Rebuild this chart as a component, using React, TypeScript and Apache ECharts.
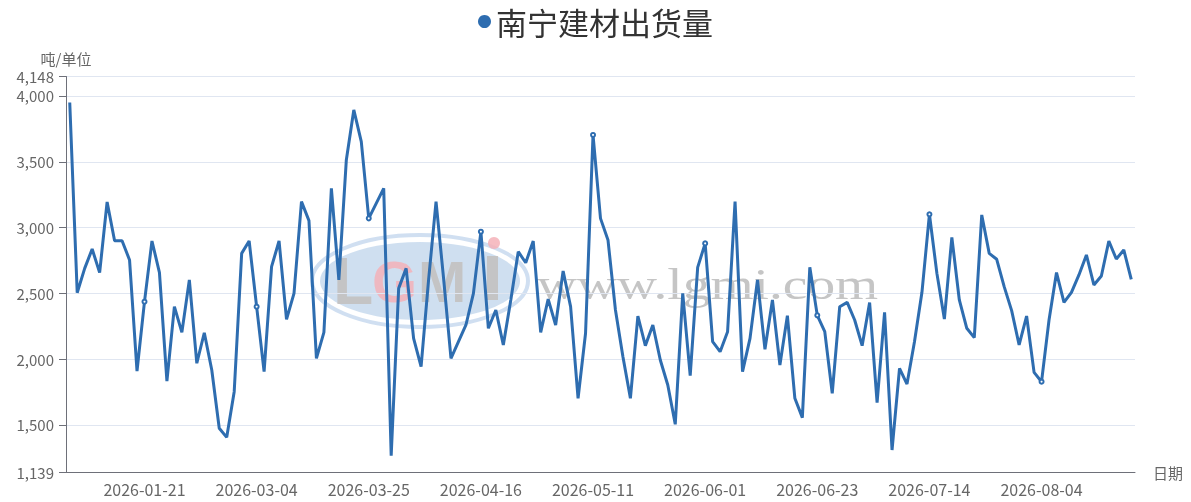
import React, { useEffect, useRef } from 'react';
import * as echarts from 'echarts';

const seriesName = '南宁建材出货量';
const yAxisName = '吨/单位';
const xAxisName = '日期';
const yMin = 1139;
const yMax = 4148;

const categories = [
  '2026-01-07', '2026-01-08', '2026-01-09', '2026-01-12', '2026-01-13', '2026-01-14', '2026-01-15', '2026-01-16', '2026-01-19', '2026-01-20',
  '2026-01-21', '2026-01-22', '2026-01-23', '2026-01-26', '2026-01-27', '2026-01-28', '2026-01-29', '2026-01-30', '2026-02-02', '2026-02-03',
  '2026-02-04', '2026-02-05', '2026-02-27', '2026-03-02', '2026-03-03',
  '2026-03-04', '2026-03-05', '2026-03-06', '2026-03-09', '2026-03-10', '2026-03-11', '2026-03-12', '2026-03-13', '2026-03-16', '2026-03-17',
  '2026-03-18', '2026-03-19', '2026-03-20', '2026-03-23', '2026-03-24',
  '2026-03-25', '2026-03-26', '2026-03-27', '2026-03-30', '2026-03-31', '2026-04-01', '2026-04-02', '2026-04-03', '2026-04-07', '2026-04-08',
  '2026-04-09', '2026-04-10', '2026-04-13', '2026-04-14', '2026-04-15',
  '2026-04-16', '2026-04-17', '2026-04-20', '2026-04-21', '2026-04-22', '2026-04-23', '2026-04-24', '2026-04-27', '2026-04-28', '2026-04-29',
  '2026-04-30', '2026-05-06', '2026-05-07', '2026-05-08', '2026-05-09',
  '2026-05-11', '2026-05-12', '2026-05-13', '2026-05-14', '2026-05-15', '2026-05-18', '2026-05-19', '2026-05-20', '2026-05-21', '2026-05-22',
  '2026-05-25', '2026-05-26', '2026-05-27', '2026-05-28', '2026-05-29',
  '2026-06-01', '2026-06-02', '2026-06-03', '2026-06-04', '2026-06-05', '2026-06-08', '2026-06-09', '2026-06-10', '2026-06-11', '2026-06-12',
  '2026-06-15', '2026-06-16', '2026-06-17', '2026-06-18', '2026-06-22',
  '2026-06-23', '2026-06-24', '2026-06-25', '2026-06-26', '2026-06-29', '2026-06-30', '2026-07-01', '2026-07-02', '2026-07-03', '2026-07-06',
  '2026-07-07', '2026-07-08', '2026-07-09', '2026-07-10', '2026-07-13',
  '2026-07-14', '2026-07-15', '2026-07-16', '2026-07-17', '2026-07-20', '2026-07-21', '2026-07-22', '2026-07-23', '2026-07-24', '2026-07-27',
  '2026-07-28', '2026-07-29', '2026-07-30', '2026-07-31', '2026-08-03',
  '2026-08-04', '2026-08-05', '2026-08-06', '2026-08-07', '2026-08-10', '2026-08-11', '2026-08-12', '2026-08-13', '2026-08-14', '2026-08-17',
  '2026-08-18', '2026-08-19', '2026-08-20',
];

const values = [
  3950, 2505, 2690, 2837, 2658, 3195, 2900, 2900, 2754, 1910,
  2437, 2898, 2658, 1834, 2399, 2204, 2602, 1969, 2201, 1918,
  1475, 1406, 1753, 2804, 2898,
  2399, 1905, 2703, 2898, 2303, 2500, 3197, 3053, 2006, 2204,
  3298, 2602, 3514, 3894, 3653,
  3070, 3184, 3298, 1266, 2538, 2690, 2158, 1943, 2600, 3197,
  2620, 2006, 2133, 2260, 2500,
  2969, 2235, 2374, 2108, 2450, 2817, 2733, 2898, 2204, 2457,
  2260, 2670, 2399, 1703, 2197,
  3704, 3070, 2906, 2374, 2019, 1703, 2328, 2103, 2260, 1994,
  1804, 1505, 2500, 1875, 2698,
  2880, 2133, 2057, 2209, 3197, 1905, 2158, 2602, 2075, 2450,
  1956, 2331, 1703, 1556, 2698,
  2333, 2209, 1741, 2399, 2432, 2298, 2103, 2430, 1670, 2356,
  1310, 1931, 1811, 2133, 2508,
  3101, 2652, 2305, 2926, 2450, 2235, 2164, 3096, 2804, 2759,
  2551, 2369, 2108, 2328, 1900,
  1829, 2298, 2658, 2432, 2508, 2640, 2792, 2564, 2632, 2898,
  2761, 2830, 2607,
];

const labelIndices = [10, 25, 40, 55, 70, 85, 100, 115, 130];

const lineColor = '#2E6DB0';
const textColor = '#666666';
const fontFamily = '"Noto Sans CJK SC", "Noto Sans", sans-serif';

export default function App() {
  const ref = useRef<HTMLDivElement>(null);

  useEffect(() => {
    if (!ref.current) return;
    const chart = echarts.init(ref.current, undefined, { renderer: 'svg' });
    const isLabel = (i: number) => labelIndices.indexOf(i) >= 0;

    const seriesData = values.map((v, i) =>
      isLabel(i) ? { value: v, symbol: 'emptyCircle' } : { value: v, symbol: 'none' }
    );

    chart.setOption({
      animation: false,
      textStyle: { fontFamily },
      legend: {
        data: [seriesName],
        icon: 'circle',
        itemWidth: 13,
        itemHeight: 13,
        itemGap: 10,
        top: 1,
        left: 'center',
        textStyle: { fontSize: 31, color: '#333333', fontFamily },
      },
      graphic: [
        {
          type: 'ellipse',
          z: 0,
          silent: true,
          shape: { cx: 420, cy: 281, rx: 108, ry: 46 },
          style: { fill: 'none', stroke: 'rgba(150,185,225,0.45)', lineWidth: 4 },
        },
        {
          type: 'ellipse',
          z: 0,
          silent: true,
          shape: { cx: 420, cy: 281, rx: 100, ry: 39 },
          style: { fill: 'rgba(140,178,220,0.42)' },
        },
        {
          type: 'text', z: 0, silent: true, x: 333, y: 281,
          style: { text: 'L', fill: 'rgba(195,191,189,0.85)', fontSize: 66, fontWeight: 'bold', fontFamily: 'Liberation Sans', verticalAlign: 'middle' },
        },
        {
          type: 'text', z: 0, silent: true, x: 372, y: 281,
          style: { text: 'G', fill: 'rgba(245,178,185,0.85)', fontSize: 58, fontWeight: 'bold', fontFamily: 'Liberation Sans', verticalAlign: 'middle' },
        },
        {
          type: 'text', z: 0, silent: true, x: 418, y: 281,
          style: { text: 'M', fill: 'rgba(195,191,189,0.85)', fontSize: 58, fontWeight: 'bold', fontFamily: 'Liberation Sans', verticalAlign: 'middle' },
        },
        {
          type: 'rect', z: 0, silent: true,
          shape: { x: 487, y: 256, width: 11, height: 44 },
          style: { fill: 'rgba(195,191,189,0.85)' },
        },
        {
          type: 'circle', z: 0, silent: true,
          shape: { cx: 494, cy: 243, r: 6 },
          style: { fill: 'rgba(245,178,185,0.85)' },
        },
        {
          type: 'text', z: 0, silent: true, x: 537, y: 284, scaleX: 1.26,
          style: { text: 'www.lgmi.com', fill: 'rgba(150,150,150,0.55)', fontSize: 44, fontFamily: 'Liberation Serif', verticalAlign: 'middle' },
        },
      ],
      grid: { left: 66, right: 56, top: 76.5, bottom: 29.5, containLabel: false },
      xAxis: {
        type: 'category',
        data: categories,
        boundaryGap: true,
        name: xAxisName,
        nameGap: 18,
        nameTextStyle: { fontSize: 15, color: textColor, fontFamily },
        axisLine: { lineStyle: { color: '#6E7079' } },
        axisTick: { interval: (i: number) => isLabel(i), length: 5 },
        axisLabel: { interval: (i: number) => isLabel(i), fontSize: 16, color: textColor, margin: 8, fontFamily },
        splitLine: { show: false },
      },
      yAxis: {
        type: 'value',
        min: yMin,
        max: yMax,
        name: yAxisName,
        nameGap: 11,
        nameTextStyle: { fontSize: 15, color: textColor, fontFamily },
        axisLine: { show: true, lineStyle: { color: '#6E7079' } },
        axisTick: { show: true, length: 7 },
        axisLabel: { fontSize: 15, color: textColor, margin: 12, fontFamily },
        splitLine: { lineStyle: { color: '#E0E6F1' } },
      },
      series: [
        {
          name: seriesName,
          type: 'line',
          data: seriesData,
          symbol: 'none',
          symbolSize: 4,
          showSymbol: true,
          showAllSymbol: true,
          z: 3,
          lineStyle: { color: lineColor, width: 3 },
          itemStyle: { color: lineColor, borderWidth: 1.5 },
        },
      ],
    });

    return () => chart.dispose();
  }, []);

  return (
    <div
      ref={ref}
      style={{ position: 'fixed', left: 0, top: 0, width: 1191, height: 502 }}
    />
  );
}
